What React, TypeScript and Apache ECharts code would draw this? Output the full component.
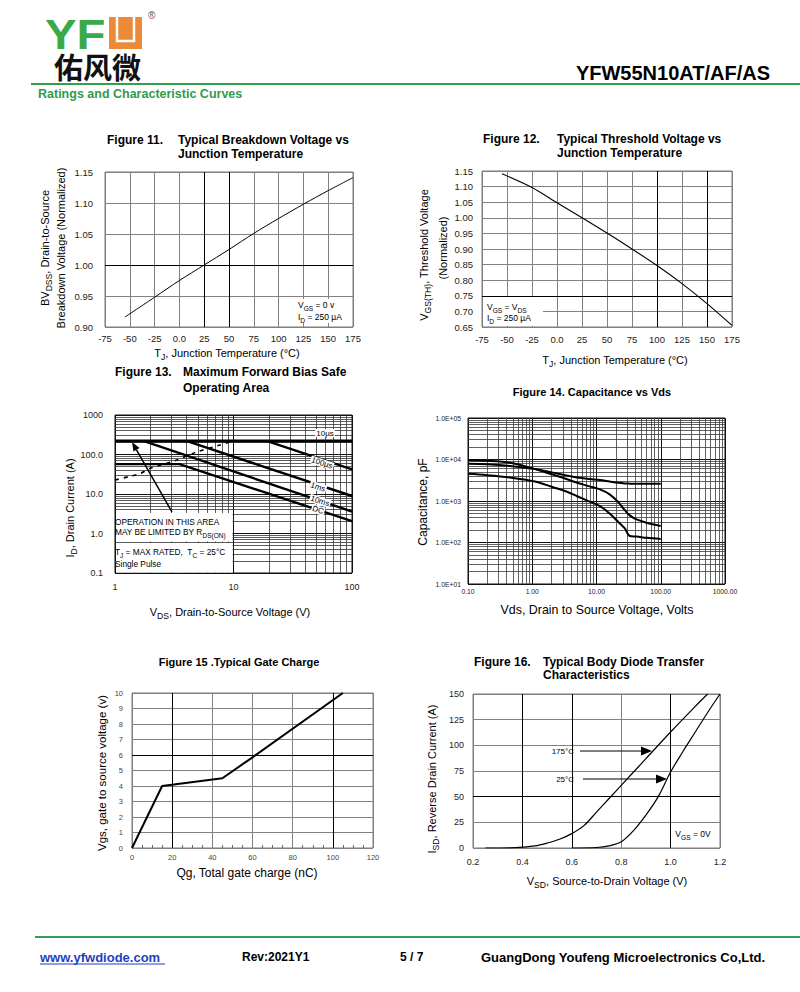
import React, { useEffect, useRef } from 'react';
import * as echarts from 'echarts';

const FONT = '"Liberation Sans", Arial, Helvetica, sans-serif';

// ---------- Figure 11 : breakdown voltage vs Tj ----------
const f11Temp = [-55, -25, 0, 25, 50, 75, 100, 125, 150, 175];
const f11BV = [0.916, 0.948, 0.975, 1.0, 1.025, 1.051, 1.075, 1.098, 1.12, 1.141];
// ---------- Figure 12 : threshold voltage vs Tj ----------
const f12Temp = [-55, -25, 0, 25, 50, 75, 100, 125, 150, 175];
const f12VTH = [1.141, 1.097, 1.048, 1.0, 0.951, 0.9, 0.847, 0.789, 0.725, 0.655];
const tempLabel = (v: number) => (v === 0 ? '0.0' : String(v));

// ---------- Figure 13 : SOA ----------
const f13XLabels = ['1', '10', '100'];
const f13YLabels = ['0.1', '1.0', '10.0', '100.0', '1000'];
const f13LimitV = [1, 100];
const f13LimitI = [220, 220];
const f13us100V = [19, 100];
const f13us100I = [220, 42];
const f13ms1V = [4.0, 100];
const f13ms1I = [220, 8.9];
const f13ms10V = [1.73, 100];
const f13ms10I = [220, 3.6];
const f13DCV = [1, 3.5, 100];
const f13DCI = [57, 57, 2.05];
const f13RdsV = [1.0, 1.3, 1.63, 1.96, 2.43, 3.15, 4.8, 7.7, 9.6];
const f13RdsI = [22.6, 27.4, 33, 44, 54, 68, 113, 174, 213];

// ---------- Figure 14 : capacitance ----------
const f14XLabels = ['0.10', '1.00', '10.00', '100.00', '1000.00'];
const f14YLabels = ['1.0E+01', '1.0E+02', '1.0E+03', '1.0E+04', '1.0E+05'];
const f14Vds = [0.1, 0.2, 0.45, 1.1, 2, 3.4, 5, 7.8, 11.3, 16, 21.7, 27.6, 33, 42, 60, 100];
const f14Ciss = [7900, 7700, 7000, 5870, 4900, 4100, 3700, 3400, 3200, 2950, 2750, 2650, 2620, 2600, 2600, 2600];
const f14Coss = [9600, 9300, 8300, 5870, 4400, 3400, 2750, 2250, 1900, 1450, 950, 600, 450, 360, 300, 250];
const f14Crss = [4520, 4200, 3680, 2950, 2200, 1690, 1300, 970, 755, 500, 315, 218, 143, 139, 130, 122];

// ---------- Figure 15 : gate charge ----------
const f15Qg = [0, 15, 45, 60, 105];
const f15Vgs = [0, 4, 4.5, 5.85, 10];

// ---------- Figure 16 : body diode ----------
const f16V175 = [0.25, 0.35, 0.4, 0.45, 0.5, 0.55, 0.6, 0.65, 0.7, 0.75, 0.8, 0.9, 1.0, 1.1, 1.15];
const f16I175 = [0, 0.2, 0.8, 2, 4.8, 8.5, 14, 22, 35, 48, 61, 87, 113, 138, 150];
const f16V25 = [0.6, 0.7, 0.75, 0.8, 0.85, 0.9, 0.95, 1.0, 1.05, 1.1, 1.15, 1.2];
const f16I25 = [0, 0.5, 2, 6, 17, 32, 50, 74, 94, 113, 132, 150];

const zip = (xs: number[], ys: number[]) => xs.map((x, i) => [x, ys[i]]);
const minors = (e0: number, e1: number) => {
  const out: number[] = [];
  for (let e = e0; e < e1; e++) for (let k = 2; k <= 9; k++) out.push(+(k * Math.pow(10, e)).toPrecision(6));
  return out;
};

const GRID = '#808080';
const vline = (v: number, color = GRID, width = 1) => ({ xAxis: v, lineStyle: { color, width, type: 'solid' } });
const hline = (v: number, color = GRID, width = 1) => ({ yAxis: v, lineStyle: { color, width, type: 'solid' } });

function gridSeries(i: number, corner: number[], lines: any[]) {
  return {
    type: 'line', xAxisIndex: i, yAxisIndex: i, data: [corner], symbol: 'none', showSymbol: false,
    lineStyle: { width: 0, opacity: 0 }, silent: true, z: 1,
    markLine: {
      silent: true, symbol: ['none', 'none'], z: 1, label: { show: false }, emphasis: { disabled: true },
      animation: false, data: lines,
    },
  };
}

function curve(i: number, xs: number[], ys: number[], width: number, smooth: any = false, type: any = 'solid') {
  return {
    type: 'line', xAxisIndex: i, yAxisIndex: i, data: zip(xs, ys), symbol: 'none', showSymbol: false,
    silent: true, z: 10, smooth, lineStyle: { color: '#000', width, type },
  };
}

function linAxis(i: number, min: number, max: number, interval: number, fmt: any, size: number, margin: number, color = '#222', minor = false) {
  return {
    type: 'value', gridIndex: i, min, max, interval,
    axisLine: { show: false }, axisTick: { show: false, inside: true },
    minorTick: minor ? { show: true, splitNumber: 4, length: 3, lineStyle: { color: '#666' } } : { show: false },
    axisLabel: { fontSize: size, fontFamily: FONT, color, margin, formatter: fmt, showMinLabel: true, showMaxLabel: true },
    splitLine: { show: true, lineStyle: { color: GRID, width: 1 } },
  };
}

function logAxis(i: number, min: number, max: number, labels: string[], size: number, margin: number) {
  const e0 = Math.round(Math.log10(min));
  return {
    type: 'log', logBase: 10, gridIndex: i, min, max,
    axisLine: { show: false }, axisTick: { show: false },
    axisLabel: {
      fontSize: size, fontFamily: FONT, color: '#222', margin, showMinLabel: true, showMaxLabel: true,
      formatter: (v: number) => labels[Math.round(Math.log10(v)) - e0] ?? '',
    },
    splitLine: { show: true, lineStyle: { color: '#111', width: 1 } },
  };
}

const rich = (size: number) => ({
  n: { fontSize: size, fontFamily: FONT, fill: '#000', lineHeight: size + 5, verticalAlign: 'middle' },
  s: { fontSize: Math.round(size * 0.78 * 10) / 10, fontFamily: FONT, fill: '#000', lineHeight: size + 5, verticalAlign: 'bottom' },
});

function txt(x: number, y: number, text: string, size: number, o: any = {}) {
  const { rotation, z, scaleX, ...style } = o;
  return {
    type: 'text', x, y, rotation: rotation || 0, scaleX: scaleX || 1, z: z ?? 20, silent: true,
    style: { text, fontSize: size, fontFamily: FONT, fill: '#000', align: 'left', verticalAlign: 'middle', rich: rich(size), ...style },
  };
}
const rect = (x: number, y: number, w: number, h: number, fill = '#fff', z = 5) => ({
  type: 'rect', z, silent: true, shape: { x, y, width: w, height: h }, style: { fill, stroke: null },
});
const seg = (x1: number, y1: number, x2: number, y2: number, stroke = '#000', lineWidth = 1, z = 20) => ({
  type: 'line', z, silent: true, shape: { x1, y1, x2, y2 }, style: { stroke, lineWidth },
});
const tri = (pts: number[][], z = 20) => ({ type: 'polygon', z, silent: true, shape: { points: pts }, style: { fill: '#000' } });

const ROT = Math.PI / 2;
const GREEN = '#33a04f';

function buildOption() {
  const gridBase = { show: true, borderColor: '#7a7a7a', borderWidth: 1, containLabel: false, outerBoundsMode: 'none', backgroundColor: 'transparent' };
  const grid = [
    { ...gridBase, left: 105, top: 172, width: 248, height: 155 },
    { ...gridBase, left: 482, top: 171, width: 250, height: 156 },
    { ...gridBase, left: 115, top: 415, width: 237, height: 158, borderColor: '#111' },
    { ...gridBase, left: 468, top: 418, width: 257, height: 166, borderColor: '#111' },
    { ...gridBase, left: 132, top: 693, width: 241, height: 155 },
    { ...gridBase, left: 473, top: 694, width: 247, height: 154 },
  ];
  const xAxis = [
    linAxis(0, -75, 175, 25, tempLabel, 9.5, 6),
    linAxis(1, -75, 175, 25, tempLabel, 9.5, 7),
    logAxis(2, 1, 100, f13XLabels, 9, 9),
    logAxis(3, 0.1, 1000, f14XLabels, 6.8, 4),
    linAxis(4, 0, 120, 20, (v: number) => String(v), 7.5, 5, '#444', true),
    linAxis(5, 0.2, 1.2, 0.2, (v: number) => v.toFixed(1), 9, 9),
  ];
  const yAxis = [
    linAxis(0, 0.9, 1.15, 0.05, (v: number) => v.toFixed(2), 9.5, 12),
    linAxis(1, 0.65, 1.15, 0.05, (v: number) => v.toFixed(2), 9.5, 9),
    logAxis(2, 0.1, 1000, f13YLabels, 9, 12),
    logAxis(3, 10, 100000, f14YLabels, 6.8, 7),
    linAxis(4, 0, 10, 1, (v: number) => String(v), 7.5, 9, '#444'),
    linAxis(5, 0, 150, 25, (v: number) => String(v), 9, 9),
  ];

  const series: any[] = [
    // grid overlays
    gridSeries(0, [-75, 0.9], [vline(25, '#000'), vline(50, '#000'), hline(1.0, '#000')]),
    gridSeries(1, [-75, 0.65], [vline(100, '#000'), vline(150, '#000'), hline(0.75, '#000')]),
    gridSeries(2, [1, 0.1], [
      ...minors(0, 2).map((v) => vline(v, '#333', 0.8)),
      ...minors(-1, 3).map((v) => hline(v, '#333', 0.8)),
    ]),
    gridSeries(3, [0.1, 10], [
      ...minors(-1, 3).map((v) => vline(v, '#3a3a3a', 0.8)),
      ...minors(1, 5).map((v) => hline(v, '#3a3a3a', 0.8)),
    ]),
    gridSeries(4, [0, 0], [vline(20, '#000'), vline(100, '#000'), hline(6, '#000')]),
    gridSeries(5, [0.2, 0], [vline(0.4, '#000'), vline(0.6, '#000'), vline(1.0, '#000'), hline(50, '#000')]),
    // curves
    curve(0, f11Temp, f11BV, 1, 0.3),
    curve(1, f12Temp, f12VTH, 1.1, 0.3),
    curve(2, f13LimitV, f13LimitI, 3),
    curve(2, f13us100V, f13us100I, 2.4),
    curve(2, f13ms1V, f13ms1I, 2.4),
    curve(2, f13ms10V, f13ms10I, 2.4),
    curve(2, f13DCV, f13DCI, 2.4),
    curve(2, f13RdsV, f13RdsI, 1.6, 0.3, [4, 5]),
    curve(3, f14Vds, f14Ciss, 2, 0.35),
    curve(3, f14Vds, f14Coss, 2, 0.35),
    curve(3, f14Vds, f14Crss, 2, 0.35),
    curve(4, f15Qg, f15Vgs, 2),
    curve(5, f16V175, f16I175, 1.2, 0.35),
    curve(5, f16V25, f16I25, 1.2, 0.35),
  ];

  const B = { fontWeight: 'bold' };
  const elements: any[] = [
    // ---------- header ----------
    txt(45, 34, 'YF', 43, { ...B, fill: '#3aaa48', scaleX: 1.1 }),
    rect(109, 17, 33, 32, '#ec8a37', 20),
    { type: 'polyline', z: 21, silent: true, shape: { points: [[117, 17], [117, 41], [134, 41], [134, 17]] }, style: { stroke: '#fff', lineWidth: 2.5, fill: null } },
    txt(148, 15, '®', 10, { fill: '#555' }),
    txt(54, 66, '佑风微', 29, { ...B, fontFamily: '"Noto Sans CJK SC", sans-serif', fill: '#111' }),
    txt(770, 73, 'YFW55N10AT/AF/AS', 20, { ...B, align: 'right' }),
    seg(31, 84, 800, 84, GREEN, 2),
    txt(38, 94, 'Ratings and Characteristic Curves', 12.5, { ...B, fill: '#2f9b4b' }),

    // ---------- Figure 11 ----------
    txt(107, 140, 'Figure 11.', 12, B),
    txt(178, 140, 'Typical Breakdown Voltage vs', 12, B),
    txt(178, 154, 'Junction Temperature', 12, B),
    txt(45, 248, '{n|BV}{s|DSS}{n|, Drain-to-Source}', 11, { rotation: ROT, align: 'center' }),
    txt(61, 248, 'Breakdown Voltage (Normalized)', 11, { rotation: ROT, align: 'center' }),
    txt(227, 353, '{n|T}{s|J}{n|, Junction Temperature (°C)}', 11, { align: 'center' }),
    rect(296, 299, 48, 24),
    txt(298, 305, '{n|V}{s|GS}{n| = 0 v}', 8.5),
    txt(298, 317, '{n|I}{s|D}{n| = 250 µA}', 8.5),

    // ---------- Figure 12 ----------
    txt(483, 139, 'Figure 12.', 12, B),
    txt(557, 139, 'Typical Threshold Voltage vs', 12, B),
    txt(557, 153, 'Junction Temperature', 12, B),
    txt(424, 255, '{n|V}{s|GS(TH)}{n|, Threshold Voltage}', 11, { rotation: ROT, align: 'center' }),
    txt(443, 248, '(Normalized)', 11, { rotation: ROT, align: 'center' }),
    txt(615, 360, '{n|T}{s|J}{n|, Junction Temperature (°C)}', 11, { align: 'center' }),
    rect(483, 297, 60, 29),
    txt(487, 307, '{n|V}{s|GS}{n| = V}{s|DS}', 8.5),
    txt(487, 318, '{n|I}{s|D}{n| = 250 µA}', 8.5),

    // ---------- Figure 13 ----------
    txt(115, 372, 'Figure 13.', 12, B),
    txt(183, 372, 'Maximum Forward Bias Safe', 12, B),
    txt(183, 388, 'Operating Area', 12, B),
    txt(70, 508, '{n|I}{s|D}{n|, Drain Current (A)}', 11, { rotation: ROT, align: 'center' }),
    txt(230, 612, '{n|V}{s|DS}{n|, Drain-to-Source Voltage (V)}', 11, { align: 'center' }),
    rect(116, 513, 116.5, 28.5),
    rect(116, 543, 116.5, 29.5),
    txt(115, 522, 'OPERATION IN THIS AREA', 8.3),
    txt(115, 532, '{n|MAY BE LIMITED BY R}{s|DS(ON)}', 8.3),
    txt(115, 552, '{n|T}{s|J}{n| = MAX RATED,  T}{s|C}{n| = 25°C}', 8.3),
    txt(115, 564, 'Single Pulse', 8.3),
    seg(172, 512, 136.5, 449.8, '#000', 1.5),
    tri([[132, 442], [139.5, 448.1], [133.5, 451.5]]),
    txt(325, 433, '10µs', 8, { align: 'center', backgroundColor: '#fff', padding: [0, 1] }),
    txt(322, 463, '100µs', 8, { align: 'center', rotation: -0.32, backgroundColor: '#fff', padding: [0, 1] }),
    txt(318, 487, '1ms', 8, { align: 'center', rotation: -0.32, backgroundColor: '#fff', padding: [0, 1] }),
    txt(320, 501, '10ms', 8, { align: 'center', rotation: -0.32, backgroundColor: '#fff', padding: [0, 1] }),
    txt(318, 510, 'DC', 8, { align: 'center', rotation: -0.32, backgroundColor: '#fff', padding: [0, 1] }),

    // ---------- Figure 14 ----------
    txt(592, 392, 'Figure 14. Capacitance vs Vds', 11, { ...B, align: 'center' }),
    txt(423, 502, 'Capacitance, pF', 12, { rotation: ROT, align: 'center' }),
    txt(597, 610, 'Vds, Drain to Source Voltage, Volts', 12.4, { align: 'center' }),

    // ---------- Figure 15 ----------
    txt(239, 662, 'Figure 15 .Typical Gate Charge', 11, { ...B, align: 'center' }),
    txt(102, 773, 'Vgs, gate to source voltage (v)', 11.5, { rotation: ROT, align: 'center' }),
    txt(247, 873, 'Qg, Total gate charge (nC)', 12, { align: 'center' }),

    // ---------- Figure 16 ----------
    txt(474, 662, 'Figure 16.', 12, B),
    txt(543, 662, 'Typical Body Diode Transfer', 12, B),
    txt(543, 675, 'Characteristics', 12, B),
    txt(432, 779, '{n|I}{s|SD}{n|, Reverse Drain Current (A)}', 11, { rotation: ROT, align: 'center' }),
    txt(607, 881, '{n|V}{s|SD}{n|, Source-to-Drain Voltage (V)}', 11, { align: 'center' }),
    txt(574, 751, '175°C', 8, { align: 'right' }),
    seg(580, 751, 643, 751, '#000', 1),
    tri([[652, 751], [641, 746.5], [641, 755.5]]),
    txt(574, 779, '25°C', 8, { align: 'right' }),
    seg(583, 779, 658, 779, '#000', 1),
    tri([[667, 779], [656, 774.5], [656, 783.5]]),
    txt(693, 834, '{n|V}{s|GS}{n| = 0V}', 8.5, { align: 'center', backgroundColor: '#fff', padding: [1, 2] }),

    // ---------- footer ----------
    seg(35, 937, 800, 937, GREEN, 2),
    txt(40, 957, 'www.yfwdiode.com', 13, { ...B, fill: '#1f3fbf' }),
    seg(40, 964, 165, 964, '#1f3fbf', 1),
    txt(242, 957, 'Rev:2021Y1', 12, B),
    txt(400, 957, '5 / 7', 12, B),
    txt(481, 957, 'GuangDong Youfeng Microelectronics Co,Ltd.', 13, B),
  ];

  return {
    animation: false,
    backgroundColor: '#fff',
    textStyle: { fontFamily: FONT },
    grid,
    xAxis,
    yAxis,
    series,
    graphic: { elements },
  };
}

export default function App() {
  const ref = useRef<HTMLDivElement>(null);
  useEffect(() => {
    const chart = echarts.init(ref.current!, null, { renderer: 'svg', width: 800, height: 992 });
    chart.setOption(buildOption() as any);
    return () => chart.dispose();
  }, []);
  return (
    <div
      ref={ref}
      style={{ position: 'absolute', left: 0, top: 0, width: 800, height: 992, background: '#fff' }}
    />
  );
}
